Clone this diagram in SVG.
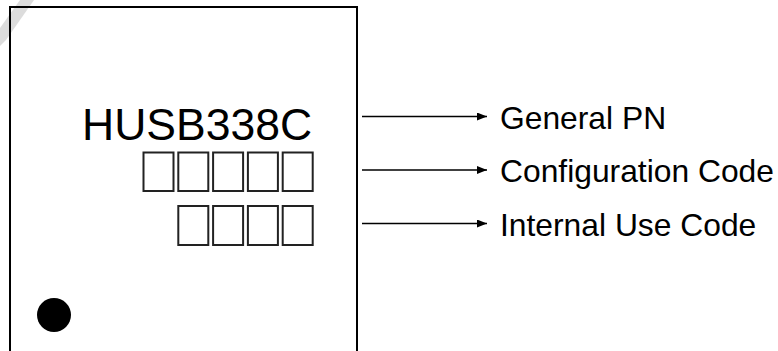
<svg xmlns="http://www.w3.org/2000/svg" width="778" height="351" viewBox="0 0 778 351">
  <defs>
    <marker id="arr" viewBox="0 0 10 8" refX="10" refY="4" markerWidth="10" markerHeight="8" markerUnits="userSpaceOnUse" orient="auto">
      <path d="M0,0 L10,4 L0,8 Z" fill="#000"/>
    </marker>
    <style>
      .lbl { font-family: "Liberation Sans", Arial, sans-serif; font-size: 31.8px; fill: #000; }
      .pn { font-family: "Liberation Sans", Arial, sans-serif; font-size: 44.5px; fill: #000; }
      .cell { fill: none; stroke: #222; stroke-width: 2; }
      .conn { stroke: #000; stroke-width: 1.5; fill: none; }
    </style>
  </defs>
  <rect x="0" y="0" width="778" height="351" fill="#fff"/>
  <polygon id="watermark" points="20,0 34,0 6,40 0,46 0,28" fill="#dcdcdc"/>
  <g id="chip">
    <rect x="10" y="7" width="347" height="360" fill="none" stroke="#000" stroke-width="2"/>
    <text class="pn" x="82" y="140">HUSB338C</text>
    <circle cx="54" cy="315" r="17" fill="#000"/>
  </g>
  <g id="config-code">
    <rect class="cell" x="143.5" y="152.5" width="30" height="38.5"/>
    <rect class="cell" x="178.3" y="152.5" width="30" height="38.5"/>
    <rect class="cell" x="213.1" y="152.5" width="30" height="38.5"/>
    <rect class="cell" x="247.9" y="152.5" width="30" height="38.5"/>
    <rect class="cell" x="282.7" y="152.5" width="30" height="38.5"/>
  </g>
  <g id="internal-code">
    <rect class="cell" x="178.3" y="206" width="30" height="39"/>
    <rect class="cell" x="213.1" y="206" width="30" height="39"/>
    <rect class="cell" x="247.9" y="206" width="30" height="39"/>
    <rect class="cell" x="282.7" y="206" width="30" height="39"/>
  </g>
  <g id="connectors">
    <line class="conn" x1="362" y1="116.5" x2="487" y2="116.5" marker-end="url(#arr)"/>
    <line class="conn" x1="362" y1="170" x2="487" y2="170" marker-end="url(#arr)"/>
    <line class="conn" x1="362" y1="223.5" x2="487" y2="223.5" marker-end="url(#arr)"/>
  </g>
  <g id="label-general-pn"><text class="lbl" x="500" y="129">General PN</text></g>
  <g id="label-config"><text class="lbl" x="500" y="182">Configuration Code</text></g>
  <g id="label-internal"><text class="lbl" x="500" y="236">Internal Use Code</text></g>
</svg>
